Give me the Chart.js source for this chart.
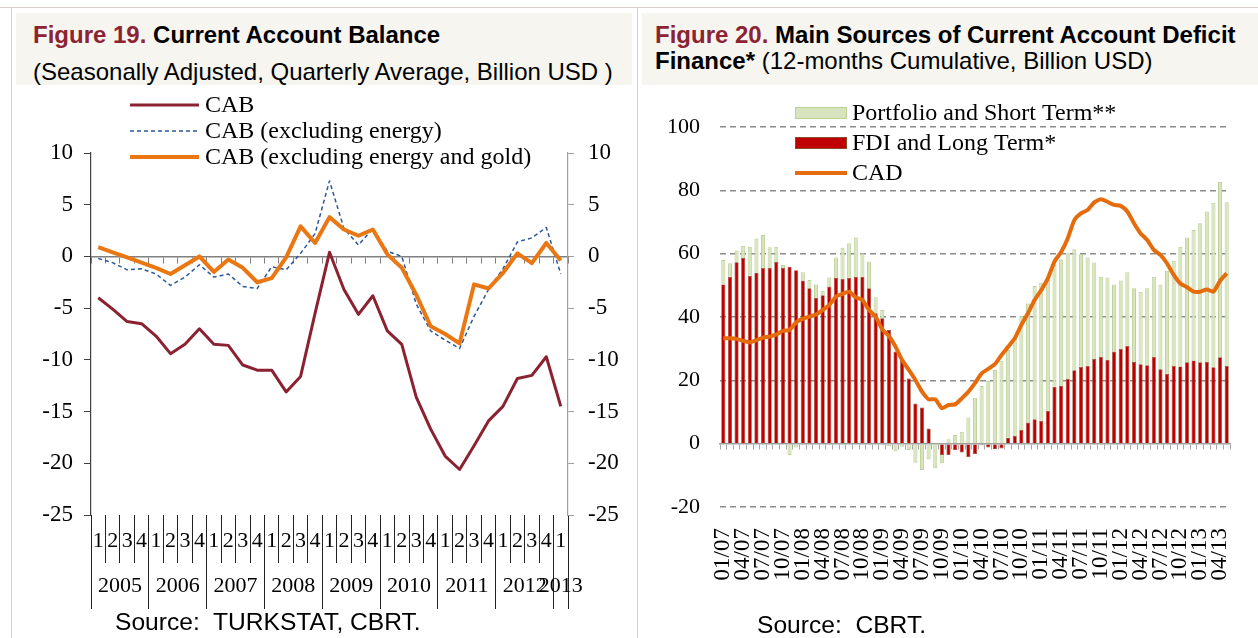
<!DOCTYPE html>
<html>
<head>
<meta charset="utf-8">
<script src="https://cdn.jsdelivr.net/npm/chart.js@4.4.1/dist/chart.umd.min.js"></script>
<style>
  body { margin: 0; background: #fff; width: 1258px; height: 638px; overflow: hidden; position: relative;
         font-family: 'Liberation Sans', Arial, sans-serif; }
  .line-h { position: absolute; left: 0; top: 7px; width: 1258px; height: 1px; background: #d6d0c6; }
  .line-v { position: absolute; top: 7px; width: 1px; height: 631px; background: #d6d0c6; }
  .titlebox { position: absolute; top: 13px; height: 72px; background: #f6f5f0; }
  .title { position: absolute; font-size: 24px; line-height: 24px; white-space: nowrap; color: #000; }
  .fig { color: #8c2332; font-weight: bold; }
  .source { position: absolute; font-size: 24.6px; line-height: 24px; white-space: nowrap; color: #000; }
  .chartbox { position: absolute; }
</style>
</head>
<body>
<div class="line-h"></div>
<div class="line-v" style="left:11px"></div>
<div class="line-v" style="left:637px"></div>

<div class="titlebox" style="left:16px; width:616px"></div>
<div class="titlebox" style="left:642px; width:616px"></div>

<div class="title" style="left:33px; top:23px"><span class="fig">Figure 19.</span> <b>Current Account Balance</b></div>
<div class="title" style="left:33px; top:60px">(Seasonally Adjusted, Quarterly Average, Billion USD )</div>

<div class="title" style="left:655px; top:23px"><span class="fig">Figure 20.</span> <b>Main Sources of Current Account Deficit</b></div>
<div class="title" style="left:655px; top:49px"><b>Finance*</b> (12-months Cumulative, Billion USD)</div>

<div class="chartbox" style="left:0; top:90px; width:637px; height:548px"><canvas id="cabChart"></canvas></div>
<div class="chartbox" style="left:640px; top:90px; width:618px; height:548px"><canvas id="cadChart"></canvas></div>

<div class="source" style="left:115px; top:610px">Source:&nbsp; TURKSTAT, CBRT.</div>
<div class="source" style="left:757px; top:613px">Source:&nbsp; CBRT.</div>

<script>
// Figure 19 data: quarterly, 2005Q1 .. 2013Q1
const quarterLabels = ['1','2','3','4','1','2','3','4','1','2','3','4','1','2','3','4',
    '1','2','3','4','1','2','3','4','1','2','3','4','1','2','3','4','1'];
const yearLabels = ['2005','2006','2007','2008','2009','2010','2011','2012','2013'];

const cab = [-4.0, -5.1, -6.3, -6.5, -7.7, -9.4, -8.5, -7.0, -8.5, -8.6,
    -10.5, -11.0, -11.0, -13.1, -11.6, -5.5, 0.4, -3.2, -5.6, -3.8,
    -7.2, -8.5, -13.6, -16.7, -19.3, -20.6, -18.3, -15.9, -14.5, -11.8,
    -11.5, -9.7, -14.5];
const cabExEnergy = [-0.2, -0.6, -1.3, -1.2, -1.7, -2.8, -2.0, -0.8, -2.0, -1.7,
    -2.9, -3.1, -1.0, -1.3, 0.3, 2.2, 7.3, 2.7, 1.1, 2.7,
    0.5, 0.0, -4.6, -7.2, -8.1, -8.9, -5.8, -3.2, -1.2, 1.4,
    1.8, 2.8, -1.7];
const cabExEnergyGold = [0.9, 0.4, -0.1, -0.6, -1.1, -1.7, -0.85, 0.0, -1.5, -0.3,
    -1.1, -2.5, -2.1, -0.1, 2.9, 1.3, 3.8, 2.6, 2.0, 2.6,
    0.2, -1.1, -3.7, -6.75, -7.5, -8.4, -2.7, -3.1, -1.6, 0.3,
    -0.65, 1.3, -0.4];

// Figure 20 data: monthly, 01/07 .. 05/13
const firstYear = 2007, monthCount = 77;
const fdiLongTerm = [50.3, 52.7, 57.3, 58.6, 53.0, 54.0, 55.5, 55.5, 57.4, 55.5,
    55.9, 54.8, 51.5, 49.1, 46.1, 46.9, 49.6, 52.3, 52.1, 52.4,
    52.6, 52.6, 49.1, 41.2, 39.6, 35.9, 29.1, 26.4, 20.6, 12.7,
    11.4, 4.8, -0.3, -3.6, -3.6, -2.0, -2.8, -4.3, -3.3, -0.4,
    -1.2, -1.8, -1.5, 1.9, 2.4, 4.3, 6.7, 7.7, 7.2, 10.4,
    18.0, 18.2, 20.4, 23.2, 24.3, 24.6, 26.7, 27.4, 26.4, 29.1,
    29.9, 30.9, 25.8, 25.1, 24.8, 27.4, 23.5, 22.1, 24.5, 24.4,
    25.7, 26.3, 25.7, 25.8, 24.1, 27.3, 24.5];
const portfolioShortTerm = [7.7, 4.3, 3.7, 3.9, 9.2, 10.8, 10.4, 6.5, 4.8, 0.9,
    -3.6, -1.2, 2.6, 2.6, 4.2, 1.4, 2.9, 6.5, 9.8, 10.9,
    12.5, 7.5, 8.4, 5.0, 2.6, -0.7, -2.5, -1.0, -2.0, -6.0,
    -8.3, -5.0, -7.5, -2.6, 1.4, 2.7, 3.8, 8.3, 14.5, 18.2,
    19.8, 23.3, 26.2, 27.7, 30.9, 36.1, 37.6, 42.1, 43.6, 41.3,
    38.4, 40.0, 39.7, 38.2, 35.5, 34.2, 30.5, 25.3, 26.1, 21.2,
    21.6, 23.2, 23.3, 22.9, 24.3, 25.3, 26.8, 32.5, 33.3, 37.8,
    39.4, 41.2, 43.9, 47.5, 52.0, 55.4, 51.7];
const cad = [33.3, 33.3, 33.1, 32.5, 32.0, 32.7, 33.5, 33.8, 34.5, 35.6,
    35.9, 38.3, 39.4, 40.1, 40.8, 42.2, 43.8, 46.4, 47.3, 48.0,
    46.2, 45.4, 42.2, 40.1, 36.1, 34.0, 30.6, 26.4, 23.3, 20.1,
    16.4, 14.0, 14.0, 11.2, 12.2, 12.4, 14.3, 16.4, 19.1, 22.2,
    23.6, 25.1, 28.0, 30.6, 33.3, 37.5, 41.2, 45.4, 48.5, 52.2,
    57.5, 60.5, 64.8, 70.6, 72.7, 73.8, 76.2, 77.2, 76.4, 75.4,
    75.1, 73.3, 69.6, 66.4, 64.3, 61.2, 59.6, 56.9, 53.3, 50.6,
    49.4, 48.0, 48.0, 48.7, 48.0, 51.4, 53.8];

// month categories "mm/yy"
const monthLabels = [];
for (let i = 0; i < monthCount; i++) {
    const m = (i % 12) + 1;
    const y = (firstYear + Math.floor(i / 12)) % 100;
    monthLabels.push(String(m).padStart(2, '0') + '/' + String(y).padStart(2, '0'));
}
const shownMonths = ['01', '04', '07', '10'];

Chart.defaults.font.family = "'Liberation Serif', 'Times New Roman', serif";
Chart.defaults.color = '#000';
Chart.defaults.animation = false;

// legend drawn on the canvas, one entry per row
const rowLegend = {
    id: 'rowLegend',
    afterDraw(chart, args, opts) {
        const ctx = chart.ctx;
        ctx.save();
        ctx.font = opts.font;
        ctx.textBaseline = 'middle';
        opts.items.forEach(item => {
            const ds = chart.data.datasets[item.index];
            if (item.box) {
                ctx.fillStyle = ds.backgroundColor;
                ctx.fillRect(opts.x0, item.y - 6, opts.x1 - opts.x0, 12);
                ctx.strokeStyle = ds.borderColor;
                ctx.lineWidth = 1;
                ctx.strokeRect(opts.x0 + 0.5, item.y - 5.5, opts.x1 - opts.x0 - 1, 11);
            } else {
                ctx.strokeStyle = ds.borderColor;
                ctx.lineWidth = ds.borderWidth;
                ctx.setLineDash(ds.borderDash || []);
                ctx.beginPath();
                ctx.moveTo(opts.x0, item.y);
                ctx.lineTo(opts.x1, item.y);
                ctx.stroke();
                ctx.setLineDash([]);
            }
            ctx.fillStyle = '#000';
            ctx.fillText(ds.label, opts.textX, item.y + 1);
        });
        ctx.restore();
    }
};

// year ticks for the second row of the quarter axis
function buildYearTicks(axis) {
    const ticks = [];
    yearLabels.forEach((year, k) => {
        const first = k * 4;
        const last = Math.min(first + 3, quarterLabels.length - 1);
        ticks.push({ value: first - 0.5, sep: true });
        ticks.push({ value: (first + last) / 2, year: year });
    });
    ticks.push({ value: quarterLabels.length - 0.5, sep: true });
    axis.ticks = ticks;
}

new Chart(document.getElementById('cabChart'), {
    type: 'line',
    data: {
        labels: quarterLabels,
        datasets: [
            { label: 'CAB', data: cab, borderColor: '#8b2232', borderWidth: 3, order: 2 },
            { label: 'CAB (excluding energy)', data: cabExEnergy, borderColor: '#2b5896', borderWidth: 1.5,
              borderDash: [4, 3], order: 1 },
            { label: 'CAB (excluding energy and gold)', data: cabExEnergyGold, borderColor: '#eb7712',
              borderWidth: 4, order: 0 }
        ]
    },
    options: {
        responsive: true,
        maintainAspectRatio: false,
        layout: { padding: { top: 63, bottom: 25, left: 0, right: 0 } },
        elements: { point: { radius: 0 }, line: { tension: 0, borderCapStyle: 'butt', borderJoinStyle: 'round' } },
        plugins: {
            legend: { display: false },
            tooltip: { enabled: false },
            rowLegend: {
                font: "24px 'Liberation Serif'",
                x0: 130, x1: 199, textX: 205,
                items: [{ index: 0, y: 15 }, { index: 1, y: 41 }, { index: 2, y: 67 }]
            }
        },
        scales: {
            x: {
                type: 'category', position: 'bottom', offset: true, weight: 1,
                border: { display: false },
                grid: { offset: true, drawOnChartArea: false, tickLength: 48, color: '#222', lineWidth: 1 },
                ticks: { autoSkip: false, maxRotation: 0, padding: -35, font: { size: 22 } },
                afterFit: s => { s.height = 48; }
            },
            x2: {
                type: 'linear', position: 'bottom', min: -0.5, max: quarterLabels.length - 0.5, weight: 2,
                border: { display: false },
                afterBuildTicks: buildYearTicks,
                grid: { drawOnChartArea: false, tickLength: 46,
                        color: c => (c.tick && c.tick.sep) ? '#222' : 'rgba(0,0,0,0)' },
                ticks: { autoSkip: false, maxRotation: 0, padding: -36, font: { size: 22 },
                         callback: (v, i, ticks) => ticks[i].year || '' },
                afterFit: s => { s.height = 50; }
            },
            x0: {
                type: 'category', labels: quarterLabels, position: { y: 0 }, offset: true,
                border: { color: '#808080', width: 1.5 },
                grid: { offset: true, drawOnChartArea: false, tickLength: 6, color: '#808080', lineWidth: 1 },
                ticks: { display: false }
            },
            y: {
                position: 'left', min: -25, max: 10,
                border: { color: '#404040', width: 1.2 },
                grid: { drawOnChartArea: false, tickLength: 7, color: '#404040' },
                ticks: { stepSize: 5, padding: 11, font: { size: 23 } },
                afterFit: s => { s.width = 91; }
            },
            y2: {
                position: 'right', min: -25, max: 10,
                border: { color: '#a0a0a0', width: 1.2 },
                grid: { drawOnChartArea: false, tickLength: 6, color: '#a0a0a0' },
                ticks: { stepSize: 5, padding: 14, font: { size: 23 } },
                afterFit: s => { s.width = 69; }
            }
        }
    },
    plugins: [rowLegend]
});

new Chart(document.getElementById('cadChart'), {
    type: 'bar',
    data: {
        labels: monthLabels,
        datasets: [
            { label: 'FDI and Long Term*', data: fdiLongTerm, backgroundColor: '#c00000',
              borderColor: '#8a4a2a', borderWidth: 0.7, stack: 'fin', order: 2 },
            { label: 'Portfolio and Short Term**', data: portfolioShortTerm, backgroundColor: '#d7e4bd',
              borderColor: '#bcd196', borderWidth: 1, stack: 'fin', order: 3 },
            { type: 'line', label: 'CAD', data: cad, borderColor: '#e56c0c', borderWidth: 4,
              pointRadius: 0, tension: 0.2, order: 0 }
        ]
    },
    options: {
        responsive: true,
        maintainAspectRatio: false,
        layout: { padding: { top: 37, bottom: 0, left: 0, right: 28 } },
        datasets: { bar: { categoryPercentage: 1.0, barPercentage: 0.62 } },
        plugins: {
            legend: { display: false },
            tooltip: { enabled: false },
            rowLegend: {
                font: "24px 'Liberation Serif'",
                x0: 155, x1: 207, textX: 212,
                items: [{ index: 1, y: 23, box: true }, { index: 0, y: 53, box: true }, { index: 2, y: 83 }]
            }
        },
        scales: {
            x: {
                stacked: true, offset: true,
                border: { display: false },
                grid: { display: false },
                ticks: { autoSkip: false, minRotation: 90, maxRotation: 90, padding: 13, font: { size: 23 },
                         callback: (v, i) => shownMonths.includes(monthLabels[i].slice(0, 2)) ? monthLabels[i] : '' },
                afterFit: s => { s.height = 131; s.paddingLeft = 0; s.paddingRight = 0; }
            },
            x0: {
                type: 'category', labels: monthLabels, position: { y: 0 }, offset: true,
                border: { color: '#a0a0a0', width: 1.5 },
                grid: { offset: true, drawOnChartArea: false, tickLength: 5, color: '#a8a8a8', lineWidth: 1 },
                ticks: { display: false }
            },
            y: {
                stacked: true, min: -20, max: 100,
                border: { display: false, dash: [6, 4] },
                grid: { drawTicks: false, lineWidth: 1.5,
                        color: c => (c.tick && c.tick.value === 0) ? 'rgba(0,0,0,0)' : '#8c8c8c' },
                ticks: { stepSize: 20, padding: 20, font: { size: 22 } },
                afterFit: s => { s.width = 80; s.paddingTop = 0; s.paddingBottom = 0; }
            }
        }
    },
    plugins: [rowLegend]
});
</script>
</body>
</html>
